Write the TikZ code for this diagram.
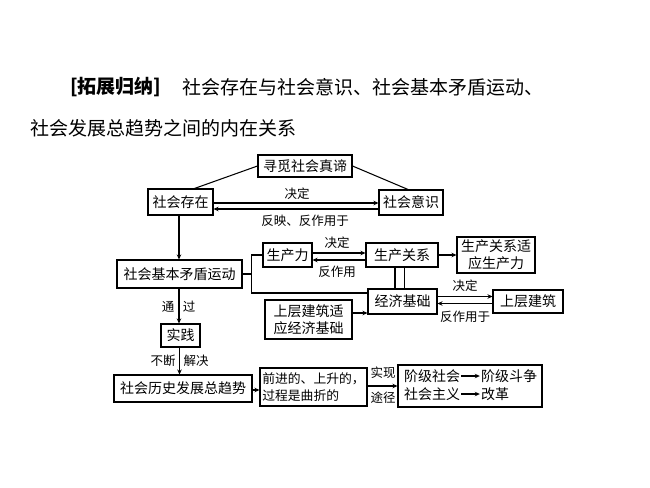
\documentclass[tikz,border=0pt]{standalone}
\usepackage{fontspec}
\setmainfont{Noto Sans CJK SC}
\usetikzlibrary{arrows.meta}
\tikzset{
  box/.style={draw, line width=1.05pt, inner sep=0pt, align=center, font=\fontsize{14}{17}\selectfont},
  lbl/.style={inner sep=0pt, font=\fontsize{12.5}{14}\selectfont},
  ttl/.style={inner sep=0pt, anchor=west, font=\fontsize{19}{22}\selectfont},
  ln/.style={line width=1.05pt},
  arr/.style={line width=1.05pt, -{Stealth[length=5pt,width=4.5pt]}},
}
\begin{document}
\begin{tikzpicture}[x=1pt,y=-1pt]
\useasboundingbox (0,0) rectangle (650,487);
% title
\node[ttl, font=\fontsize{19}{22}\selectfont\bfseries] (t1) at (70,87) {[拓展归纳]};
\node[ttl] (t2) at (182,87) {社会存在与社会意识、社会基本矛盾运动、};
\node[ttl] (t3) at (30,128) {社会发展总趋势之间的内在关系};
% boxes
\node[box, minimum width=94pt, minimum height=22pt] (xunmi) at (305,166) {寻觅社会真谛};
\node[box, minimum width=65pt, minimum height=26pt] (cunzai) at (180.5,202) {社会存在};
\node[box, minimum width=64pt, minimum height=25pt] (yishi) at (411,202.5) {社会意识};
\node[box, minimum width=125pt, minimum height=28pt] (maodun) at (179.5,274) {社会基本矛盾运动};
\node[box, minimum width=49pt, minimum height=24pt] (scl) at (287.5,255) {生产力};
\node[box, minimum width=72pt, minimum height=24pt] (scgx) at (402,255) {生产关系};
\node[box, minimum width=78pt, minimum height=36pt] (sy1) at (496,255) {生产关系适\\应生产力};
\node[box, minimum width=69pt, minimum height=25pt] (jjjc) at (402.5,301.5) {经济基础};
\node[box, minimum width=70pt, minimum height=23pt] (sccj) at (528,301.5) {上层建筑};
\node[box, minimum width=87pt, minimum height=39pt] (sy2) at (308.5,319.5) {上层建筑适\\应经济基础};
\node[box, minimum width=39pt, minimum height=23pt] (shijian) at (180.5,335.5) {实践};
\node[box, minimum width=107pt, minimum height=38pt, align=left, font=\fontsize{12.8}{17}\selectfont] (qj) at (313.5,387) {前进的、上升的，\\过程是曲折的};
\node[box, minimum width=138pt, minimum height=27pt] (zqs) at (183,388.5) {社会历史发展总趋势};
\node[box, minimum width=144pt, minimum height=42pt] (jieji) at (470,386) {};
\node[lbl, font=\fontsize{14}{17}\selectfont] (js) at (432,376) {阶级社会};
\node[lbl, font=\fontsize{14}{17}\selectfont] (jd) at (509,376) {阶级斗争};
\node[lbl, font=\fontsize{14}{17}\selectfont] (shzy) at (432,394) {社会主义};
\node[lbl, font=\fontsize{14}{17}\selectfont] (gg) at (495,394) {改革};
% labels
\node[lbl] (l1) at (297,194) {决定};
\node[lbl] (l2) at (305,221) {反映、反作用于};
\node[lbl] (l3) at (337,243) {决定};
\node[lbl] (l4) at (337,272) {反作用};
\node[lbl] (l5) at (465,286) {决定};
\node[lbl] (l6) at (465,317) {反作用于};
\node[lbl] (l7) at (168,307) {通};
\node[lbl] (l8) at (189,307) {过};
\node[lbl] (l9) at (163,361) {不断};
\node[lbl] (l10) at (196,361) {解决};
\node[lbl] (l11) at (383,373) {实现};
\node[lbl] (l12) at (383,398) {途径};
% connectors
\draw[ln] (xunmi.west) -- ([xshift=14pt]cunzai.north);
\draw[ln] (xunmi.east) -- ([xshift=-3pt]yishi.north);
\draw[arr] ([yshift=-1pt]cunzai.east) -- ([yshift=-1pt]cunzai.east -| yishi.west);
\draw[arr] ([yshift=-7pt]cunzai.east -| yishi.west) -- ([yshift=-7pt]cunzai.east);
\draw[arr] ([xshift=-1.5pt]cunzai.south) -- ([xshift=-1.5pt]cunzai.south |- maodun.north);
\coordinate (brk) at ([xshift=9pt]maodun.east);
\draw[ln] (maodun.east) -- (brk);
\draw[ln] (scl.west) -| (brk) |- ([yshift=8.5pt]jjjc.west);
\draw[arr] ([yshift=2pt]scl.east) -- ([yshift=2pt]scl.east -| scgx.west);
\draw[arr] ([yshift=-5pt]scl.east -| scgx.west) -- ([yshift=-5pt]scl.east);
\draw[arr] (scgx.east) -- (sy1.west);
\draw[ln] ([xshift=-7pt]scgx.south) -- ([xshift=-7pt]scgx.south |- jjjc.north);
\draw[ln] ([xshift=2.5pt]scgx.south) -- ([xshift=2.5pt]scgx.south |- jjjc.north);
\draw[arr] ([yshift=5pt]jjjc.east) -- ([yshift=5pt]jjjc.east -| sccj.west);
\draw[arr] ([yshift=-2pt]jjjc.east -| sccj.west) -- ([yshift=-2pt]jjjc.east);
\draw[arr] ([yshift=6.5pt]sy2.east) -- ([yshift=6.5pt]sy2.east -| jjjc.west);
\draw[arr] ([xshift=-0.5pt]maodun.south) -- ([xshift=-0.5pt]maodun.south |- shijian.north);
\draw[arr] ([xshift=-1pt]shijian.south) -- ([xshift=-1pt]shijian.south |- zqs.north);
\draw[arr] ([yshift=-1.5pt]zqs.east) -- ([yshift=-1.5pt]zqs.east -| qj.west);
\draw[arr] ([yshift=1pt]qj.east) -- ([yshift=1pt]qj.east -| jieji.west);
\draw[arr] ([xshift=1pt]js.east) -- ([xshift=-1pt]jd.west);
\draw[arr] ([xshift=1pt]shzy.east) -- ([xshift=-1pt]gg.west);
\end{tikzpicture}
\end{document}
